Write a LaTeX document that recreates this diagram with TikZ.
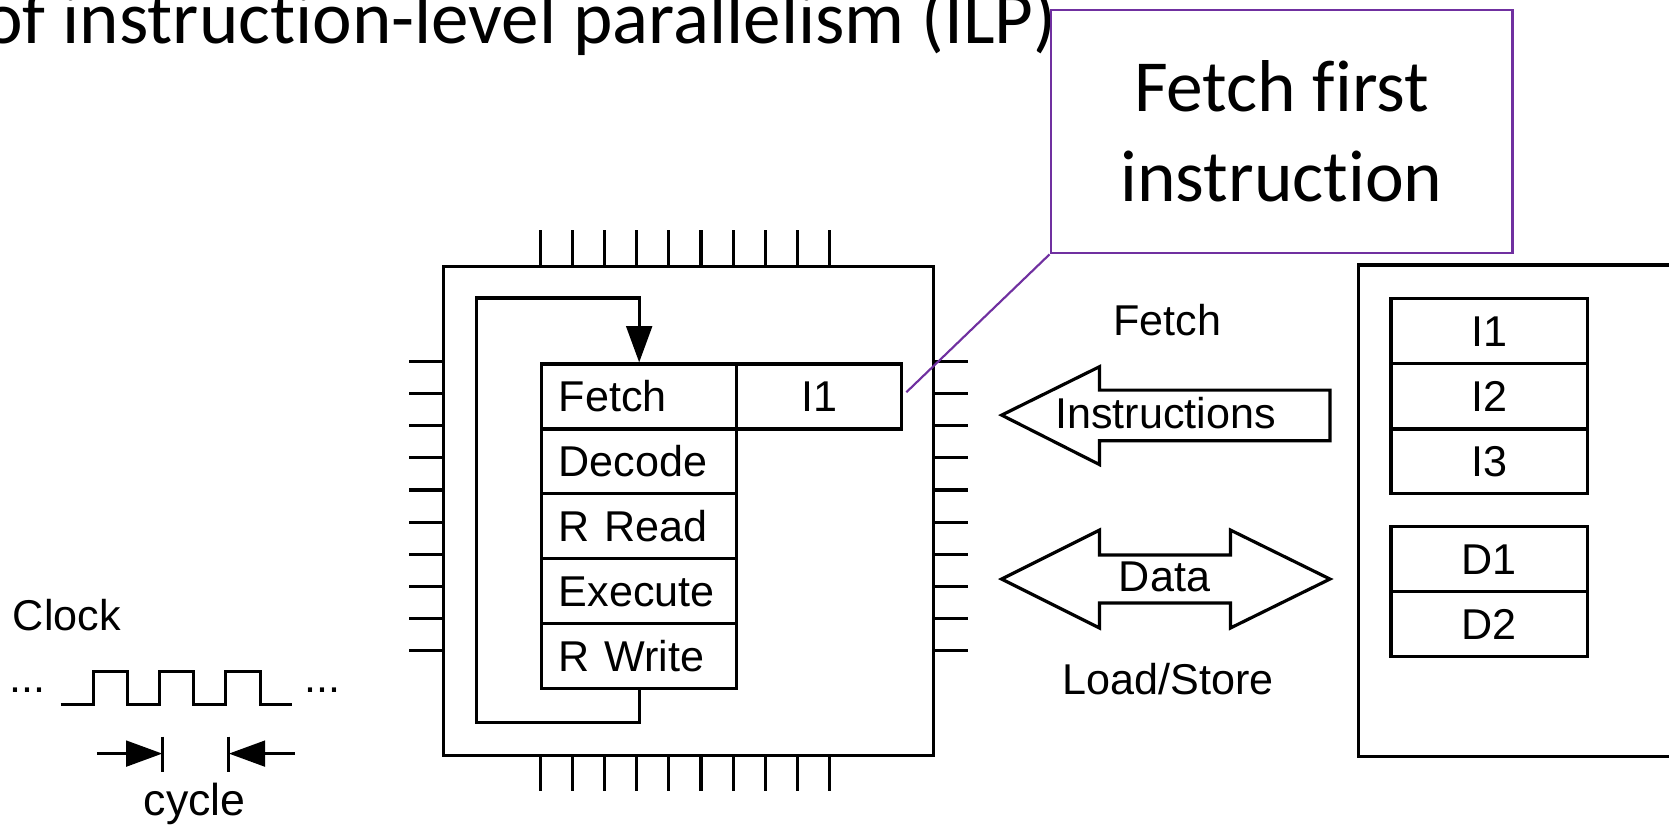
\documentclass[tikz,border=0pt]{standalone}
\usepackage{fontspec}
\newfontfamily\helv{Liberation Sans}
\newfontfamily\calib{Carlito}[Ligatures={NoCommon,NoContextual}]
\usetikzlibrary{arrows.meta,calc}
\definecolor{calloutpurple}{RGB}{112,48,160}
\tikzset{
  wire/.style={line width=3pt, line join=miter},
  lblfont/.style={font=\helv\fontsize{40.5}{48}\selectfont},
  cell/.style={draw, line width=3pt, inner sep=0pt, minimum height=61pt,
    text height=29pt, text depth=0pt, lblfont},
  stagebox/.style={cell, minimum width=183pt, text width=151pt, inner xsep=16pt, align=left},
  memcell/.style={cell, minimum width=184.5pt},
  lbl/.style={inner sep=0pt, lblfont},
  bigarrow/.style={draw, line width=3pt, line join=miter},
  tipend/.style={-{Triangle[length=34pt,width=24pt]}},
}
\begin{document}
\begin{tikzpicture}[x=1pt,y=-1pt]
\useasboundingbox (0,0) rectangle (1568,775);

% heading line
\node[anchor=base east, inner sep=0pt, font=\calib\fontsize{70.5}{80}\selectfont]
  (title) at (993,41) {of instruction-level parallelism (ILP)};

% processor package with its pins
\node[draw, line width=3pt, minimum size=460pt, inner sep=0pt] (chip) at (647,480) {};
\foreach \i in {0,...,9} {
  \draw[wire] ($(chip.north west)+(92+30.22*\i,0)$) -- ++(0,-32);
  \draw[wire] ($(chip.south west)+(92+30.22*\i,0)$) -- ++(0,32);
  \draw[wire] ($(chip.north west)+(0,91+30.22*\i)$) -- ++(-31,0);
  \draw[wire] ($(chip.north east)+(0,91+30.22*\i)$) -- ++(31,0);
}

% pipeline stages
\node[stagebox] (fetch)  at (600.5,372.5) {Fetch};
\node[stagebox] (decode) at (600.5,433.5) {Decode};
\node[stagebox] (rread)  at (600.5,494.5) {R Read};
\node[stagebox] (exec)   at (600.5,555.5) {Execute};
\node[stagebox] (rwrite) at (600.5,616.5) {R Write};
\node[cell, minimum width=155pt] (slot) at (769.5,372.5) {I1};

% feedback loop from the last stage back to fetch
\coordinate (loopbl) at (448,679);
\coordinate (looptl) at (448,280);
\draw[wire, tipend] (rwrite.south) |- (loopbl) -- (looptl) -| (fetch.north);

% callout
\node[draw=calloutpurple, line width=2pt, minimum width=434pt, minimum height=229pt,
  inner sep=0pt, align=center, font=\calib\fontsize{69}{84.5}\selectfont]
  (callout) at (1204,123.5) {Fetch first\\instruction};
\coordinate (slotpt) at ($(slot.east)+(3,-4)$);
\draw[calloutpurple, line width=2pt] (callout.south west) -- (slotpt);

% bus arrows
\draw[bigarrow] (941,390) -- (1033,344.5) -- (1033,366.5) -- (1249.5,366.5)
  -- (1249.5,414) -- (1033,414) -- (1033,436.5) -- cycle;
\draw[bigarrow] (941,544) -- (1033,498) -- (1033,521.5) -- (1156,521.5) -- (1156,498)
  -- (1249.5,544) -- (1156,590) -- (1156,566.5) -- (1033,566.5) -- (1033,590) -- cycle;
\node[lbl, anchor=base] (fetchlbl) at (1096.5,315) {Fetch};
\node[lbl, anchor=base] (instr) at (1095,402.5) {Instructions};
\node[lbl, anchor=base] (datalbl) at (1094,556) {Data};
\node[lbl, anchor=base] (lslbl) at (1097.5,652) {Load/Store};

% memory
\node[draw, line width=3pt, minimum width=344pt, minimum height=462pt, inner sep=0pt]
  (mem) at (1448,480) {};
\node[memcell] (mi1) at (1399,311) {I1};
\node[memcell] (mi2) at (1399,372) {I2};
\node[memcell] (mi3) at (1399,433.5) {I3};
\node[memcell] (md1) at (1399,525.5) {D1};
\node[memcell] (md2) at (1399,586.5) {D2};

% clock
\node[lbl, anchor=base west] (clock) at (12,592) {Clock};
\node[lbl, anchor=base west] (dotsl) at (9,651) {...};
\node[lbl, anchor=base west] (dotsr) at (286,651) {...};
\draw[wire] (57,662) -- (88,662) -- (88,631) -- (120,631) -- (120,662) -- (150,662)
  -- (150,631) -- (182,631) -- (182,662) -- (212,662) -- (212,631) -- (245,631)
  -- (245,662) -- (274,662);
\coordinate (barl) at (152.5,708);
\coordinate (barr) at (215,708);
\draw[wire] (152.5,692) -- (152.5,725);
\draw[wire] (215,692) -- (215,725);
\coordinate (arrl) at (91,708);
\coordinate (arrr) at (277,708);
\draw[wire, tipend] (arrl) -- (barl);
\draw[wire, tipend] (arrr) -- (barr);
\node[lbl, anchor=base, font=\helv\fontsize{42}{48}\selectfont] (cyc) at (183,766) {cycle};
\end{tikzpicture}
\end{document}
